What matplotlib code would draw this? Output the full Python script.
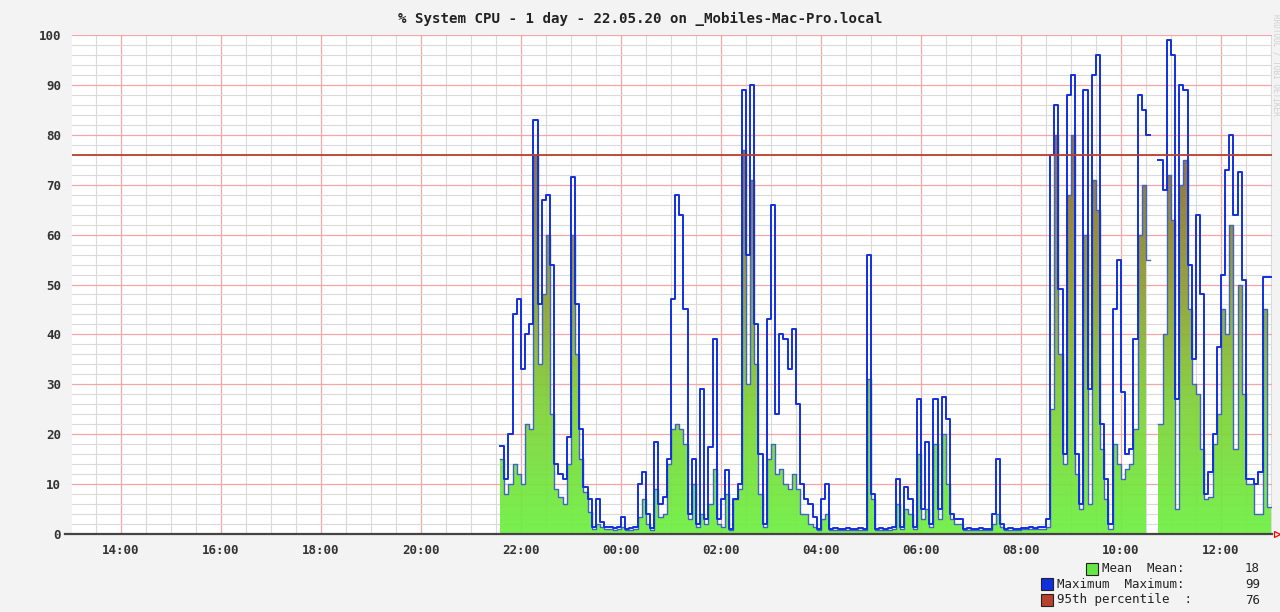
import numpy as np
import matplotlib
matplotlib.use("Agg")
import matplotlib.pyplot as plt
from matplotlib.colors import LinearSegmentedColormap
from matplotlib.patches import Rectangle
from matplotlib.path import Path

# --- data (5 minute samples starting 21:35, percent system CPU) ---
start_hour = 21 + 35 / 60
step_min = 5

cpu_max = [
    17.6, 11, 20, 44, 47, 33, 40, 42, 83, 46, 67, 68, 54, 14, 12, 11, 19.5, 71.6, 46, 21,
    9.5, 7, 1.5, 7, 2.5, 1.5, 1.5, 1.2, 1.5, 3.5, 1, 1.2, 1.5, 10, 12.5, 4, 1.2, 18.5, 6, 7.5,
    15, 47, 68, 64, 45, 4, 15, 2, 29, 3, 17.5, 39, 3, 7, 12.8, 1, 7, 10, 89, 56,
    90, 42, 16, 2, 43, 66, 24, 40, 39, 33, 41, 26, 10, 7, 6, 3.5, 1, 7, 10, 1,
    1.2, 1, 1, 1.2, 1, 1, 1.2, 1, 56, 8, 1, 1.2, 1, 1.2, 1.5, 11, 1.5, 9.5, 7, 1.5,
    27, 5, 18.5, 2, 27, 5, 27.5, 23, 4, 3, 3, 1, 1.2, 1, 1, 1.2, 1, 1, 4, 15,
    2, 1, 1.2, 1, 1, 1.2, 1.2, 1.5, 1.2, 1.5, 1.5, 3, 76, 86, 49, 16, 88, 92, 16, 6,
    89, 29, 92, 96, 22, 11, 2, 45, 55, 28.5, 16, 17, 39, 88, 85, 80, np.nan, np.nan, 75, 69,
    99, 96, 27, 90, 89, 54, 35, 64, 48, 8, 12.5, 20, 37.5, 52, 73, 80, 64, 72.6, 51, 11,
    11, 10, 12.4, 51.5, 51.5,
]
cpu_mean = [
    15, 8, 10, 14, 12, 10, 22, 21, 76, 34, 48, 60, 24, 9, 7.5, 6, 14, 60, 36, 15,
    8.5, 4.5, 1, 2, 1.5, 1, 1, 0.9, 1, 1.5, 0.8, 0.8, 1, 3.5, 7, 2, 0.8, 9, 3.5, 4,
    14, 21, 22, 21, 18, 3, 10, 1.5, 4, 2, 6, 13, 2, 1.5, 8, 0.8, 7, 9, 77, 30,
    71, 34, 8, 1.5, 15, 18, 12, 13, 10, 9, 12, 9, 4, 4, 2, 1.5, 0.8, 3, 4, 0.8,
    0.8, 0.8, 0.8, 0.9, 0.8, 0.8, 0.9, 0.8, 31, 7, 0.8, 0.9, 0.8, 0.9, 1, 6, 1, 5, 4, 1,
    16, 3, 5, 1.5, 18, 3, 20, 10, 3, 2, 2, 0.8, 0.9, 0.8, 0.8, 0.9, 0.8, 0.8, 2, 4,
    1.5, 0.8, 0.9, 0.8, 0.8, 1, 1, 1, 1, 1, 1, 1.5, 25, 80, 36, 14, 68, 80, 12, 5,
    60, 6, 71, 65, 17, 7, 1, 18, 14, 11, 13, 14, 21, 60, 70, 55, np.nan, np.nan, 22, 40,
    72, 63, 5, 70, 75, 45, 30, 28, 17, 7, 7.5, 18, 24, 45, 40, 62, 17, 50, 28, 10,
    10, 4, 4, 45, 5.5,
]

percentile_95 = 76
legend_rows = [
    ("Mean  Mean:", "18", "#66e844"),
    ("Maximum  Maximum:", "99", "#1030e0"),
    ("95th percentile  :", "76", "#b8402e"),
]
title = "% System CPU - 1 day - 22.05.20 on _Mobiles-Mac-Pro.local"
x_start, x_end = 13.02, 37.02
tick_hours = list(range(14, 37, 2))
tick_labels = [f"{h % 24:02d}:00" for h in tick_hours]

mono = "DejaVu Sans Mono"

cpu_max = np.array(cpu_max, dtype=float)
cpu_mean = np.array(cpu_mean, dtype=float)
n = len(cpu_max)
edges = start_hour + np.arange(n + 1) * step_min / 60.0
max_y = np.append(cpu_max, cpu_max[-1])
mean_y = np.append(cpu_mean, cpu_mean[-1])

fig = plt.figure(figsize=(12.8, 6.12), dpi=100, facecolor="#f3f3f3")
ax = fig.add_axes([72 / 1280, 78 / 612, 1200 / 1280, 499 / 612])
ax.set_facecolor("white")
ax.set_xlim(x_start, x_end)
ax.set_ylim(0, 100)

# grid
ax.set_xticks(tick_hours)
ax.set_xticks(np.arange(13.5, 37.1, 0.5), minor=True)
ax.set_yticks(range(0, 101, 10))
ax.set_yticks(range(0, 101, 2), minor=True)
ax.grid(which="minor", color="#dadada", lw=0.8, zorder=0)
ax.grid(which="major", color="#f2a6a6", lw=0.9, zorder=0.5)
ax.set_xticklabels(tick_labels, fontfamily=mono, fontsize=9, fontweight="bold", color="#333333")
ax.set_yticklabels([str(v) for v in range(0, 101, 10)], fontfamily=mono, fontsize=9,
                   fontweight="bold", color="#333333")
ax.tick_params(which="both", length=0)
ax.tick_params(axis="x", pad=7)
ax.tick_params(axis="y", pad=8)
for s in ("top", "right", "left", "bottom"):
    ax.spines[s].set_visible(False)

# mean area with vertical gradient (green -> brown)
fb = ax.fill_between(edges, 0, mean_y, step="post", color="none", lw=0)
clip = Path.make_compound_path(*fb.get_paths())
cmap = LinearSegmentedColormap.from_list(
    "cpu", ["#6cf040", "#7ed236", "#8f9a30", "#8c6a32", "#8a4436"])
grad = np.linspace(0, 1, 256).reshape(-1, 1)
im = ax.imshow(grad, cmap=cmap, aspect="auto", origin="lower",
               extent=[x_start, x_end, 0, 100], zorder=2, alpha=0.92)
im.set_clip_path(clip, transform=ax.transData)
ax.set_xlim(x_start, x_end)
ax.set_ylim(0, 100)

ax.step(edges, mean_y, where="post", color="#3f63c8", lw=1.0, zorder=3)
ax.step(edges, max_y, where="post", color="#1030e0", lw=1.4, zorder=4)

# 95th percentile
ax.axhline(percentile_95, color="#b8402e", lw=1.3, zorder=5)

# axis line and arrow
ax.axhline(0, xmin=-0.006, xmax=1.0, color="#444444", lw=1.6, zorder=6, clip_on=False)
ax.plot([1.004], [0], marker=">", transform=ax.transAxes, mfc="none", mec="red",
        ms=5, mew=0.9, clip_on=False, zorder=7)

fig.text(0.5, 1 - 19 / 612, title, ha="center", va="center", fontfamily=mono,
         fontsize=10.2, fontweight="bold", color="#222222")
fig.text(1276 / 1280, 1 - 65 / 612, "RRDTOOL / TOBI OETIKER", rotation=270,
         ha="center", va="center", fontsize=5.5, color="#cfcfcf", fontfamily=mono)

# legend
row_y = [569, 584, 600]
box_x = [1086, 1041, 1041]
for (label, val, col), yy, bx in zip(legend_rows, row_y, box_x):
    fy = 1 - yy / 612
    fig.patches.append(Rectangle((bx / 1280, fy - 6 / 612), 12 / 1280, 12 / 612,
                                 transform=fig.transFigure, facecolor=col,
                                 edgecolor="#222222", lw=0.8))
    fig.text((bx + 16) / 1280, fy, label, ha="left", va="center", fontfamily=mono,
             fontsize=9, color="#222222")
    fig.text(1260 / 1280, fy, val, ha="right", va="center", fontfamily=mono,
             fontsize=9, color="#222222")

fig.savefig("out.png", dpi=100, facecolor=fig.get_facecolor())
